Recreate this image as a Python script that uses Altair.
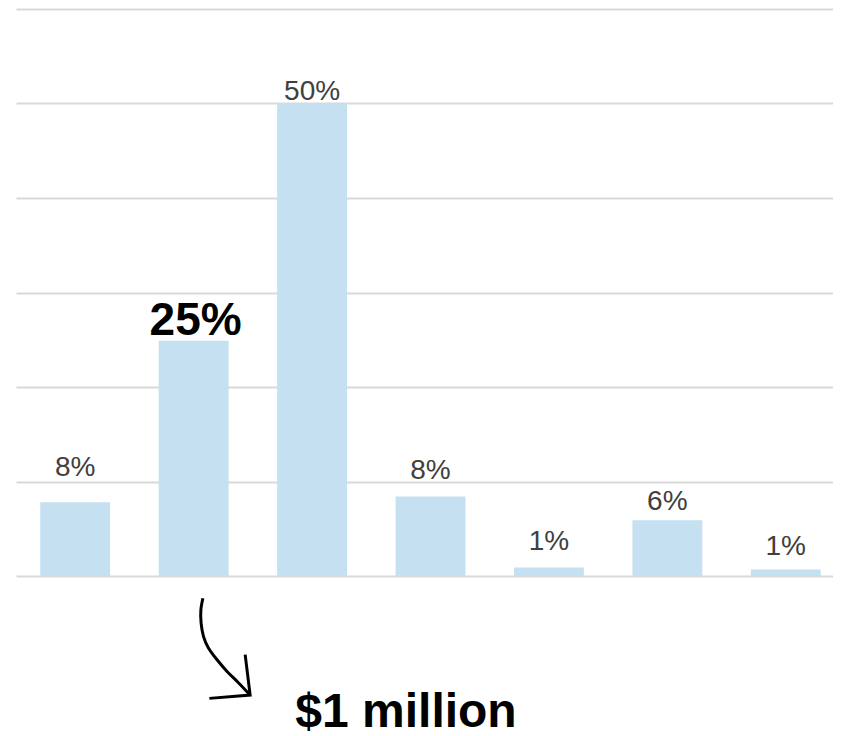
import altair as alt
import pandas as pd

# ---- data ----
categories = ["b1", "b2", "b3", "b4", "b5", "b6", "b7"]
values = [7.8, 24.9, 50.0, 8.4, 0.9, 5.9, 0.7]
labels = ["8%", "25%", "50%", "8%", "1%", "6%", "1%"]
highlight = [False, True, False, False, False, False, False]

# annotation (arrow path and note), in data units: x in category units, y in %
curve_u = [1.578, 1.561, 1.563, 1.583, 1.625, 1.696, 1.780, 1.878, 1.977]
curve_v = [-2.35, -3.58, -4.98, -6.39, -7.61, -8.84, -10.07, -11.29, -12.60]
head_u = [1.935, 1.977, 1.633]
head_v = [-8.32, -12.60, -12.95]
note_text = ["$1 million"]
note_u = [3.293]
note_v = [-16.0]

# ---- layout / style ----
W, H = 817, 567
Y_MAX = 60
PX_PER_UNIT = H / Y_MAX
label_gap_px = [26, 6, 4, 18, 17, 10, 14]
FONT = "Liberation Sans, Arial, Helvetica, sans-serif"
BAR_COLOR = "#c4e0f1"

bars_df = pd.DataFrame({
    "cat": categories,
    "value": values,
    "label": labels,
    "hl": highlight,
    "label_pos": [v + g / PX_PER_UNIT for v, g in zip(values, label_gap_px)],
})
curve_df = pd.DataFrame({"u": curve_u, "v": curve_v, "i": range(len(curve_u))})
head_df = pd.DataFrame({"u": head_u, "v": head_v, "i": range(len(head_u))})
note_df = pd.DataFrame({"text": note_text, "u": note_u, "v": note_v})

x_band = alt.X(
    "cat:N", sort=categories, axis=None,
    scale=alt.Scale(range=[0, 829], paddingInner=0.41, paddingOuter=0.205),
)
y_scale = alt.Scale(domain=[0, Y_MAX], nice=False, zero=True)
y_axis = alt.Axis(values=[0, 10, 20, 30, 40, 50, 60], grid=True,
                  gridColor="#d9d9d9", gridWidth=2, labels=False,
                  ticks=False, domain=False, title=None)
x_q = alt.X("u:Q", axis=None,
            scale=alt.Scale(domain=[0, 7], range=[0, 829], nice=False, zero=False))

bars = alt.Chart(bars_df).mark_bar(color=BAR_COLOR).encode(
    x=x_band,
    y=alt.Y("value:Q", scale=y_scale, axis=y_axis),
)

labels_normal = alt.Chart(bars_df).mark_text(
    font=FONT, fontSize=28, color="#404040", baseline="alphabetic", align="center"
).encode(
    x=x_band,
    y=alt.Y("label_pos:Q", scale=y_scale, axis=y_axis),
    text="label:N",
    opacity=alt.condition("datum.hl", alt.value(0), alt.value(1)),
)

labels_hl = alt.Chart(bars_df).mark_text(
    font=FONT, fontSize=46, fontWeight="bold", color="#000000",
    baseline="alphabetic", align="center", dx=2
).encode(
    x=x_band,
    y=alt.Y("label_pos:Q", scale=y_scale, axis=y_axis),
    text="label:N",
    opacity=alt.condition("datum.hl", alt.value(1), alt.value(0)),
)

main = alt.layer(bars, labels_normal, labels_hl)

curve = alt.Chart(curve_df).mark_line(
    color="#000000", strokeWidth=3, interpolate="natural", strokeCap="butt"
).encode(
    x=x_q,
    y=alt.Y("v:Q", scale=y_scale, axis=y_axis),
    order="i:Q",
)

head = alt.Chart(head_df).mark_line(
    color="#000000", strokeWidth=3, interpolate="linear",
    strokeJoin="miter", strokeCap="butt"
).encode(
    x=x_q,
    y=alt.Y("v:Q", scale=y_scale, axis=y_axis),
    order="i:Q",
)

note = alt.Chart(note_df).mark_text(
    font=FONT, fontSize=48, fontWeight="bold", color="#000000",
    baseline="alphabetic", align="center"
).encode(
    x=x_q,
    y=alt.Y("v:Q", scale=y_scale, axis=y_axis),
    text="text:N",
)

annot = alt.layer(curve, head, note)

chart = alt.layer(main, annot).resolve_scale(
    x="independent"
).properties(
    width=W, height=H,
    autosize=alt.AutoSizeParams(type="none"),
    padding={"left": 8, "top": 1, "right": 0, "bottom": 160},
).configure_view(stroke=None)

chart.save("out.html", embed_options={"renderer": "svg", "actions": False})
